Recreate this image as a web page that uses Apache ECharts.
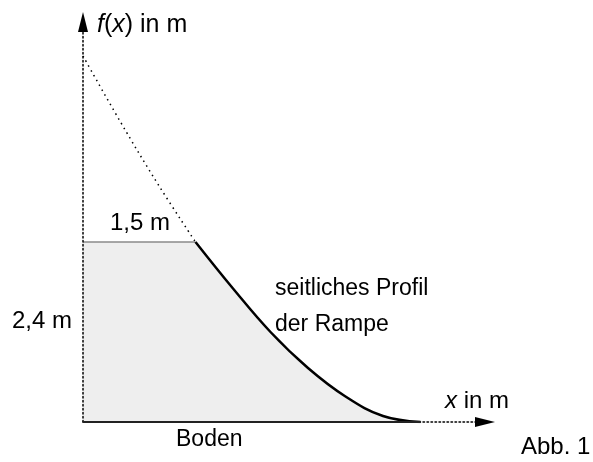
<!DOCTYPE html>
<html>
<head>
<meta charset="utf-8">
<script src="https://cdn.jsdelivr.net/npm/echarts@6/dist/echarts.min.js"></script>
<style>
  html, body { margin: 0; padding: 0; background: #fff; }
  #main { width: 593px; height: 462px; }
</style>
</head>
<body>
<div id="main"></div>
<script>
// profile of the ramp, x in m -> f(x) in m
var rampX = [1.5, 2.0, 2.5, 3.0, 3.5, 4.0, 4.5];
var rampY = [2.4, 1.78, 1.2, 0.72, 0.34, 0.08, 0];
// dotted continuation of the curve towards the y axis
var extX = [0, 0.5, 1.0, 1.5];
var extY = [4.88, 4.0, 3.17, 2.4];
// platform on top of the ramp
var topWidth = 1.5;
var topHeight = 2.4;
var groundEnd = 4.5;

function pairs(xs, ys) {
  var out = [];
  for (var i = 0; i < xs.length; i++) {
    out.push([xs[i], ys[i]]);
  }
  return out;
}

var chart = echarts.init(document.getElementById('main'));
var font = '"Liberation Sans", Arial, sans-serif';
var fill = '#eeeeee';

function axisStyle() {
  return {
    show: true,
    symbol: ['none', 'triangle'],
    symbolSize: [10, 20],
    lineStyle: { color: '#000', type: [1.5, 2.5], width: 1.5 }
  };
}

var option = {
  animation: false,
  grid: {
    left: 83,
    top: 22,
    width: 402,
    height: 400
  },
  xAxis: {
    type: 'value',
    min: 0,
    max: 402 / 75,
    z: 10,
    axisLine: axisStyle(),
    axisTick: { show: false },
    axisLabel: { show: false },
    splitLine: { show: false }
  },
  yAxis: {
    type: 'value',
    min: 0,
    max: 400 / 75,
    z: 10,
    axisLine: axisStyle(),
    axisTick: { show: false },
    axisLabel: { show: false },
    splitLine: { show: false }
  },
  series: [
    {
      // flat top, 1,5 m wide
      type: 'line',
      data: [[0, topHeight], [topWidth, topHeight]],
      symbol: 'none',
      lineStyle: { color: '#8a8a8a', width: 1.5 },
      areaStyle: { color: fill, opacity: 1 },
      z: 2
    },
    {
      // area under the ramp
      type: 'line',
      data: pairs(rampX, rampY),
      smooth: 0.4,
      symbol: 'none',
      lineStyle: { width: 0 },
      areaStyle: { color: fill, opacity: 1 },
      z: 2
    },
    {
      // hides the seam between both areas
      type: 'line',
      data: [[topWidth, 0.02], [topWidth, topHeight - 0.05]],
      symbol: 'none',
      lineStyle: { color: fill, width: 1.5 },
      z: 2
    },
    {
      type: 'line',
      data: pairs(rampX, rampY),
      smooth: 0.4,
      symbol: 'none',
      lineStyle: { color: '#000', width: 2.5 },
      z: 3
    },
    {
      type: 'line',
      data: pairs(extX, extY),
      smooth: 0.4,
      symbol: 'none',
      lineStyle: { color: '#000', width: 1.5, type: [1.5, 4] },
      z: 3
    },
    {
      // Boden
      type: 'line',
      data: [[0, 0], [groundEnd, 0]],
      symbol: 'none',
      lineStyle: { color: '#222', width: 2 },
      z: 11
    }
  ],
  graphic: [
    {
      type: 'text', left: 97, top: 13,
      style: {
        text: '{i|f}({i|x}) in m',
        font: '25px ' + font, fill: '#000',
        rich: { i: { fontStyle: 'italic', fontSize: 25, fontFamily: font } }
      }
    },
    { type: 'text', left: 110, top: 211, style: { text: '1,5 m', font: '24px ' + font, fill: '#000' } },
    { type: 'text', left: 12, top: 309, style: { text: '2,4 m', font: '24px ' + font, fill: '#000' } },
    { type: 'text', left: 275, top: 277, style: { text: 'seitliches Profil', font: '23px ' + font, fill: '#000' } },
    { type: 'text', left: 275, top: 313, style: { text: 'der Rampe', font: '23px ' + font, fill: '#000' } },
    { type: 'text', left: 176, top: 428, style: { text: 'Boden', font: '23px ' + font, fill: '#000' } },
    {
      type: 'text', left: 445, top: 389,
      style: {
        text: '{i|x} in m',
        font: '24px ' + font, fill: '#000',
        rich: { i: { fontStyle: 'italic', fontSize: 24, fontFamily: font } }
      }
    },
    { type: 'text', left: 521, top: 435, style: { text: 'Abb. 1', font: '24px ' + font, fill: '#000' } }
  ]
};

chart.setOption(option);
</script>
</body>
</html>
